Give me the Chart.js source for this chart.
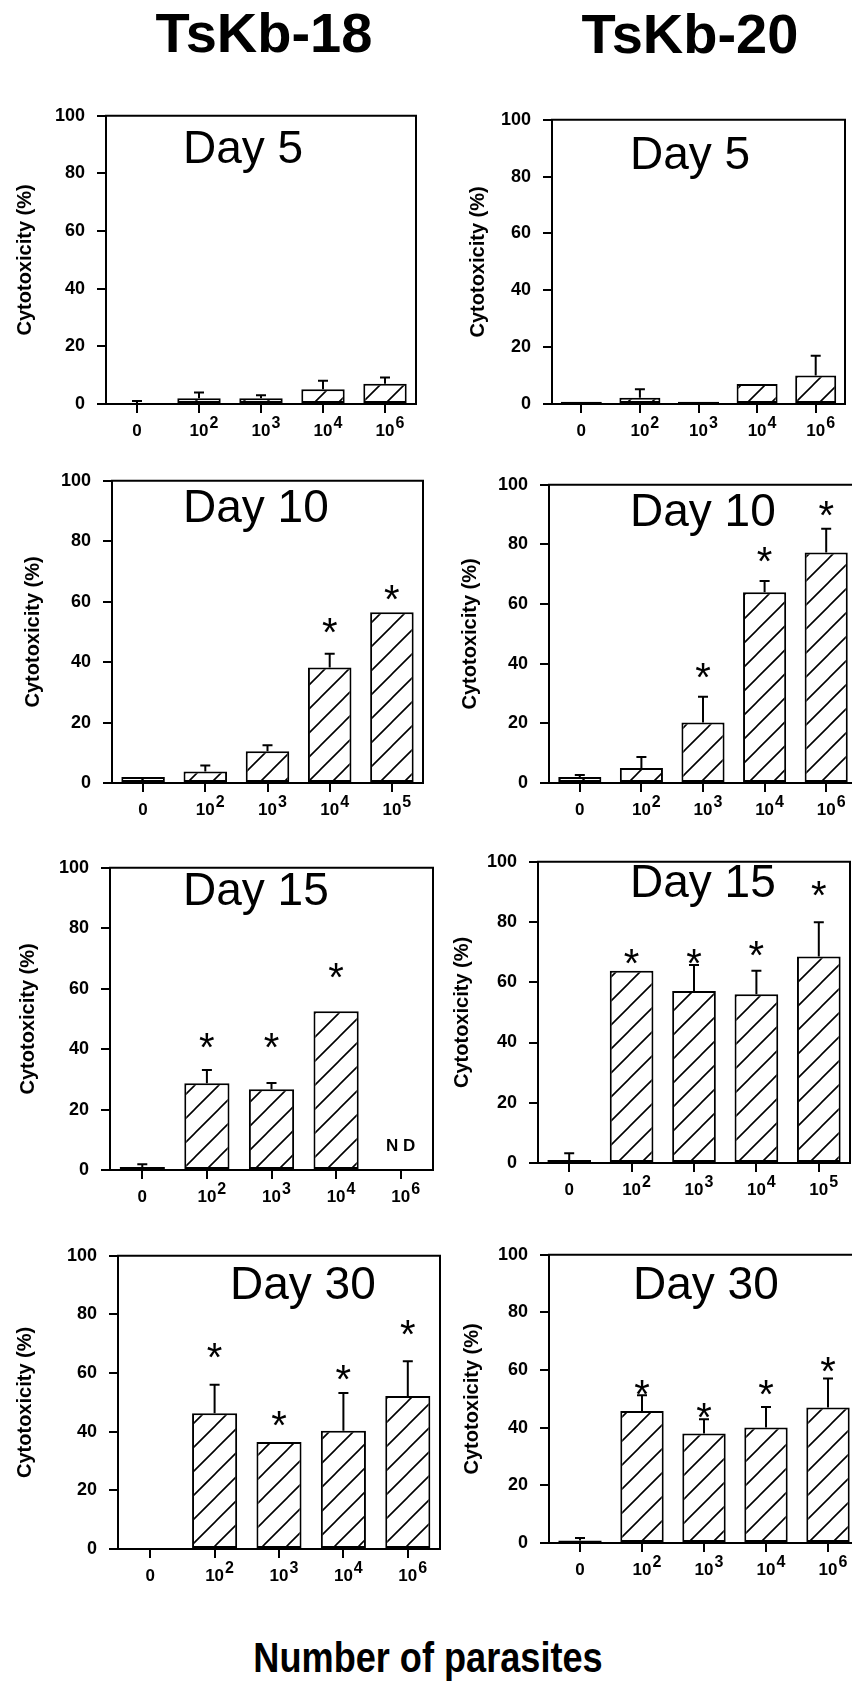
<!DOCTYPE html>
<html>
<head>
<meta charset="utf-8">
<script src="https://cdn.jsdelivr.net/npm/chart.js@4.4.0/dist/chart.umd.min.js"></script>
<style>
  body { margin: 0; width: 852px; height: 1684px; overflow: hidden; background: #fff; position: relative;
         font-family: "Liberation Sans", Arial, sans-serif; color: #000; }
  canvas { position: absolute; }
  .head { position: absolute; font-weight: bold; font-size: 56px; line-height: 56px; text-align: center; width: 300px; }
  .foot { position: absolute; font-weight: bold; font-size: 42px; line-height: 42px; text-align: center; width: 500px;
          transform: scaleX(0.86); white-space: nowrap; }
</style>
</head>
<body>
<div class="head" style="left:114px; top:5px;">TsKb-18</div>
<div class="head" style="left:540px; top:6px;">TsKb-20</div>
<div class="foot" style="left:178px; top:1637px;">Number of parasites</div>

<script>
// categories (number of parasites)
var labelsA = ['0', '10²', '10³', '10⁴', '10⁶'];
var labelsB = ['0', '10²', '10³', '10⁴', '10⁵'];

// cytotoxicity (%) - means, error (upper SD), significance star level
var d5_18 = [0, 2, 2, 5.1, 7];
var d5_18err = [1, 2, 1, 3, 2.2];
var d5_20 = [0.8, 2.2, 0.8, 7, 10];
var d5_20err = [0, 3, 0, 0, 7];

var d10_18 = [2, 3.8, 10.5, 38.2, 56.5];
var d10_18err = [0, 2, 2, 4.6, 0];
var d10_18star = [null, null, null, 53, 64];
var d10_20 = [2, 5, 20.3, 64, 77.3];
var d10_20err = [0.7, 3.7, 8.6, 3.7, 8];
var d10_20star = [null, null, 38.5, 77.5, 92.8];

var d15_18 = [1, 28.7, 26.7, 52.5, null];
var d15_18err = [0.9, 4.4, 2.1, 0, null];
var d15_18star = [null, 43.8, 43.8, 66.7, null];
var d15_18note = [null, null, null, null, 'N D'];
var d15_20 = [1, 63.8, 57.1, 56, 68.6];
var d15_20err = [2.2, 0, 8.6, 7.8, 11.3];
var d15_20star = [null, 69.5, 69.5, 72.2, 92.1];

var d30_18 = [0, 46.3, 36.5, 40.3, 52.2];
var d30_18err = [0, 9.7, 0, 12.9, 11.8];
var d30_18star = [null, 68.7, 45.4, 60.9, 76.4];
var d30_20 = [0.9, 45.8, 38, 40.1, 47];
var d30_20err = [0.8, 5.5, 4.9, 7.1, 10.1];
var d30_20star = [null, 54.7, 46.9, 54.7, 62.9];

var yTicks = [0, 20, 40, 60, 80, 100];
var noteLevel = 8;

var supMap = { '²': '2', '³': '3', '⁴': '4', '⁵': '5', '⁶': '6' };

// page layout of each panel: plot box [left, top, right, bottom], y-title centre, day title position
var panels = [
  { title: 'Day 5',  labels: labelsA, values: d5_18,  errors: d5_18err,  stars: null,       box: [106, 108, 416, 404],  ytx: 25,  tpos: [183, 163] },
  { title: 'Day 5',  labels: labelsA, values: d5_20,  errors: d5_20err,  stars: null,       box: [552, 112, 845, 404],  ytx: 478, tpos: [630, 169] },
  { title: 'Day 10', labels: labelsB, values: d10_18, errors: d10_18err, stars: d10_18star, box: [112, 473, 423, 783],  ytx: 33,  tpos: [183, 522] },
  { title: 'Day 10', labels: labelsA, values: d10_20, errors: d10_20err, stars: d10_20star, box: [549, 477, 857, 783],  ytx: 470, tpos: [630, 526] },
  { title: 'Day 15', labels: labelsA, values: d15_18, errors: d15_18err, stars: d15_18star, box: [110, 860, 433, 1170], ytx: 28,  tpos: [183, 905], notes: d15_18note },
  { title: 'Day 15', labels: labelsB, values: d15_20, errors: d15_20err, stars: d15_20star, box: [538, 854, 850, 1163], ytx: 462, tpos: [630, 897] },
  { title: 'Day 30', labels: labelsA, values: d30_18, errors: d30_18err, stars: d30_18star, box: [118, 1248, 440, 1549], ytx: 25,  tpos: [230, 1299] },
  { title: 'Day 30', labels: labelsA, values: d30_20, errors: d30_20err, stars: d30_20star, box: [549, 1247, 859, 1543], ytx: 472, tpos: [633, 1299] }
];

function makeHatch() {
  var c = document.createElement('canvas');
  c.width = 24; c.height = 24;
  var g = c.getContext('2d');
  g.fillStyle = '#fff';
  g.fillRect(0, 0, 24, 24);
  g.strokeStyle = '#000';
  g.lineWidth = 1.6;
  g.beginPath();
  g.moveTo(0, 24); g.lineTo(24, 0);
  g.moveTo(-6, 6); g.lineTo(6, -6);
  g.moveTo(18, 30); g.lineTo(30, 18);
  g.stroke();
  return g.createPattern(c, 'repeat');
}

function makeExtras(p, offX, offY) {
  return {
    id: 'extras',
    afterDatasetsDraw: function(chart) {
      var ctx = chart.ctx, area = chart.chartArea;
      var xs = chart.scales.x, ys = chart.scales.y;
      var bars = chart.getDatasetMeta(0).data;
      ctx.save();
      ctx.strokeStyle = '#000';
      ctx.fillStyle = '#000';
      ctx.lineWidth = 2;

      // top and right frame
      ctx.beginPath();
      ctx.moveTo(area.left - 1, area.top);
      ctx.lineTo(area.right, area.top);
      ctx.lineTo(area.right, area.bottom);
      ctx.stroke();

      // error bars
      p.values.forEach(function(v, i) {
        var e = p.errors[i];
        if (v == null || !e) return;
        var x = bars[i].x;
        var y0 = ys.getPixelForValue(v), y1 = ys.getPixelForValue(v + e);
        ctx.beginPath();
        ctx.moveTo(x, y0); ctx.lineTo(x, y1);
        ctx.moveTo(x - 5, y1); ctx.lineTo(x + 5, y1);
        ctx.stroke();
      });

      // significance stars
      if (p.stars) {
        ctx.font = '40px "Liberation Sans", Arial';
        ctx.textAlign = 'center';
        ctx.textBaseline = 'alphabetic';
        p.stars.forEach(function(s, i) {
          if (s == null) return;
          ctx.fillText('*', xs.getPixelForTick(i), ys.getPixelForValue(s) + 23);
        });
      }

      // notes (not determined)
      if (p.notes) {
        ctx.font = 'bold 17px "Liberation Sans", Arial';
        ctx.textAlign = 'center';
        ctx.textBaseline = 'middle';
        p.notes.forEach(function(n, i) {
          if (!n) return;
          ctx.fillText(n, xs.getPixelForTick(i), ys.getPixelForValue(noteLevel));
        });
      }

      // x tick labels with superscripts
      p.labels.forEach(function(lab, i) {
        var x = xs.getPixelForTick(i);
        var base = lab, sup = '';
        if (supMap[lab.slice(-1)]) { base = lab.slice(0, -1); sup = supMap[lab.slice(-1)]; }
        ctx.font = 'bold 17px "Liberation Sans", Arial';
        ctx.textBaseline = 'alphabetic';
        ctx.textAlign = 'center';
        ctx.fillText(base, x, area.bottom + 32);
        if (sup) {
          var w = ctx.measureText(base).width;
          ctx.font = 'bold 16px "Liberation Sans", Arial';
          ctx.textAlign = 'left';
          ctx.fillText(sup, x + w / 2 + 1, area.bottom + 24);
        }
      });

      // day title inside the plot
      ctx.font = '46px "Liberation Sans", Arial';
      ctx.textAlign = 'left';
      ctx.textBaseline = 'alphabetic';
      ctx.fillText(p.title, p.tpos[0] - offX, p.tpos[1] - offY);
      ctx.restore();
    }
  };
}

var hatch = makeHatch();
var padTop = 15, xAxisH = 45, padRight = 12;

panels.forEach(function(p) {
  var L = p.box[0], T = p.box[1], R = p.box[2], B = p.box[3];
  var cx = p.ytx - 25, cy = T - padTop;
  var yw = L - cx;
  var canvas = document.createElement('canvas');
  canvas.width = R - L + yw + padRight;
  canvas.height = B - T + padTop + xAxisH;
  canvas.style.left = cx + 'px';
  canvas.style.top = cy + 'px';
  document.body.appendChild(canvas);

  new Chart(canvas, {
    type: 'bar',
    data: {
      labels: p.labels,
      datasets: [{
        data: p.values,
        backgroundColor: hatch,
        borderColor: '#000',
        borderWidth: 2,
        borderSkipped: false,
        barPercentage: 0.7,
        categoryPercentage: 1.0
      }]
    },
    options: {
      responsive: false,
      animation: false,
      layout: { padding: { top: padTop, right: padRight, left: 0, bottom: 0 } },
      plugins: { legend: { display: false }, tooltip: { enabled: false } },
      scales: {
        x: {
          grid: { offset: false, drawOnChartArea: false, drawTicks: true, tickLength: 9, color: '#000', lineWidth: 2 },
          border: { color: '#000', width: 2 },
          ticks: { display: false },
          afterFit: function(s) { s.height = xAxisH; }
        },
        y: {
          min: 0, max: 100,
          afterBuildTicks: function(s) { s.ticks = yTicks.map(function(v) { return { value: v }; }); },
          grid: { drawOnChartArea: false, drawTicks: true, tickLength: 9, color: '#000', lineWidth: 2 },
          border: { color: '#000', width: 2 },
          ticks: { color: '#000', padding: 12, font: { family: '"Liberation Sans", Arial', size: 18, weight: 'bold' } },
          title: {
            display: true, text: 'Cytotoxicity (%)', color: '#000',
            font: { family: '"Liberation Sans", Arial', size: 20, weight: 'bold' },
            padding: { top: 13, bottom: 0 }
          },
          afterFit: function(s) { s.width = yw; }
        }
      }
    },
    plugins: [makeExtras(p, cx, cy)]
  });
});
</script>
</body>
</html>
